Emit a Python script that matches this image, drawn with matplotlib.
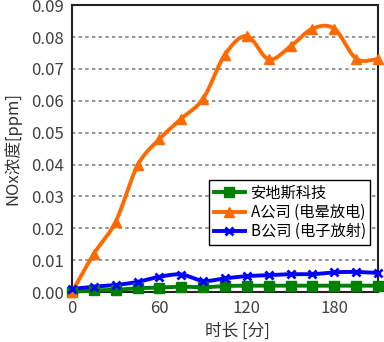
import numpy as np
import matplotlib
matplotlib.use("Agg")
import matplotlib.pyplot as plt

plt.rcParams['font.family'] = ['Noto Sans CJK SC', 'DejaVu Sans']

minutes = [0, 15, 30, 45, 60, 75, 90, 105, 120, 135, 150, 165, 180, 195, 210]
andes = [0.0001, 0.0005, 0.0007, 0.0012, 0.0014, 0.0017, 0.0015, 0.0019, 0.0020,
         0.0020, 0.0020, 0.0020, 0.0020, 0.0020, 0.0020]
company_a = [0.0, 0.0120, 0.0221, 0.0397, 0.0480, 0.0544, 0.0607, 0.0745, 0.0803,
             0.0730, 0.0771, 0.0826, 0.0826, 0.0732, 0.0730]
company_b = [0.0010, 0.0017, 0.0022, 0.0032, 0.0048, 0.0055, 0.0035, 0.0043, 0.0050,
             0.0053, 0.0056, 0.0056, 0.0062, 0.0063, 0.0060]
labels = ['安地斯科技', 'A公司 (电晕放电)', 'B公司 (电子放射)']
colors = ['#008000', '#FF6A00', '#0000FF']
markers = ['s', '^', 'x']
yticks = [0.00, 0.01, 0.02, 0.03, 0.04, 0.05, 0.06, 0.07, 0.08, 0.09]
xticks = [0, 60, 120, 180]


def smooth(x, y, n=20):
    x = np.asarray(x, float)
    y = np.asarray(y, float)
    px = np.concatenate([[2 * x[0] - x[1]], x, [2 * x[-1] - x[-2]]])
    py = np.concatenate([[2 * y[0] - y[1]], y, [2 * y[-1] - y[-2]]])
    xs, ys = [], []
    t = np.linspace(0, 1, n, endpoint=False)
    for i in range(1, len(px) - 2):
        p0, p1, p2, p3 = (np.array([px[j], py[j]]) for j in (i - 1, i, i + 1, i + 2))
        c1 = p1 + (p2 - p0) / 6
        c2 = p2 - (p3 - p1) / 6
        b = ((1 - t) ** 3)[:, None] * p1 + (3 * (1 - t) ** 2 * t)[:, None] * c1 \
            + (3 * (1 - t) * t ** 2)[:, None] * c2 + (t ** 3)[:, None] * p2
        xs.extend(b[:, 0]); ys.extend(b[:, 1])
    xs.append(x[-1]); ys.append(y[-1])
    return np.array(xs), np.array(ys)


fig = plt.figure(figsize=(3.84, 3.42), dpi=100)
ax = fig.add_axes([0.1875, 0.146, 0.797, 0.839])

for data, lab, c, m in zip([andes, company_a, company_b], labels, colors, markers):
    sx, sy = smooth(minutes, data)
    ax.plot(sx, sy, color=c, lw=2.8, solid_capstyle='round', zorder=3, clip_on=False)
    ax.plot(minutes, data, linestyle='none', marker=m, color=c, ms=6.5 if m != 'x' else 6,
            mew=2 if m == 'x' else 1, zorder=4, clip_on=False)
    ax.plot([], [], color=c, lw=2.8, marker=m, ms=6.5 if m != 'x' else 6,
            mew=2 if m == 'x' else 1, label=lab)

ax.set_xlim(0, 210)
ax.set_ylim(0, 0.09)
ax.set_xticks(xticks)
ax.set_yticks(yticks)
ax.set_yticklabels([f'{v:.2f}' for v in yticks])
ax.tick_params(length=0, labelsize=12, colors='#404040', pad=6)
ax.yaxis.grid(True, linestyle=(0, (2, 2)), color='#808080', lw=1.2)
ax.set_axisbelow(True)
for s in ax.spines.values():
    s.set_color('#222222')
    s.set_linewidth(1.5)

ax.set_ylabel('NOx浓度[ppm]', fontsize=12, color='#333333')
ax.yaxis.set_label_coords(-0.165, 0.5)
ax.set_xlabel('时长 [分]', fontsize=12, color='#333333')
ax.xaxis.set_label_coords(0.54, -0.105)

leg = ax.legend(loc='lower right', bbox_to_anchor=(0.975, 0.165), fontsize=11,
                frameon=True, fancybox=False, edgecolor='black', framealpha=1,
                handlelength=2, borderpad=0.3, labelspacing=0.15, handletextpad=0.4,
                borderaxespad=0)
leg.get_frame().set_linewidth(1.0)

fig.savefig('out.png', dpi=100)
